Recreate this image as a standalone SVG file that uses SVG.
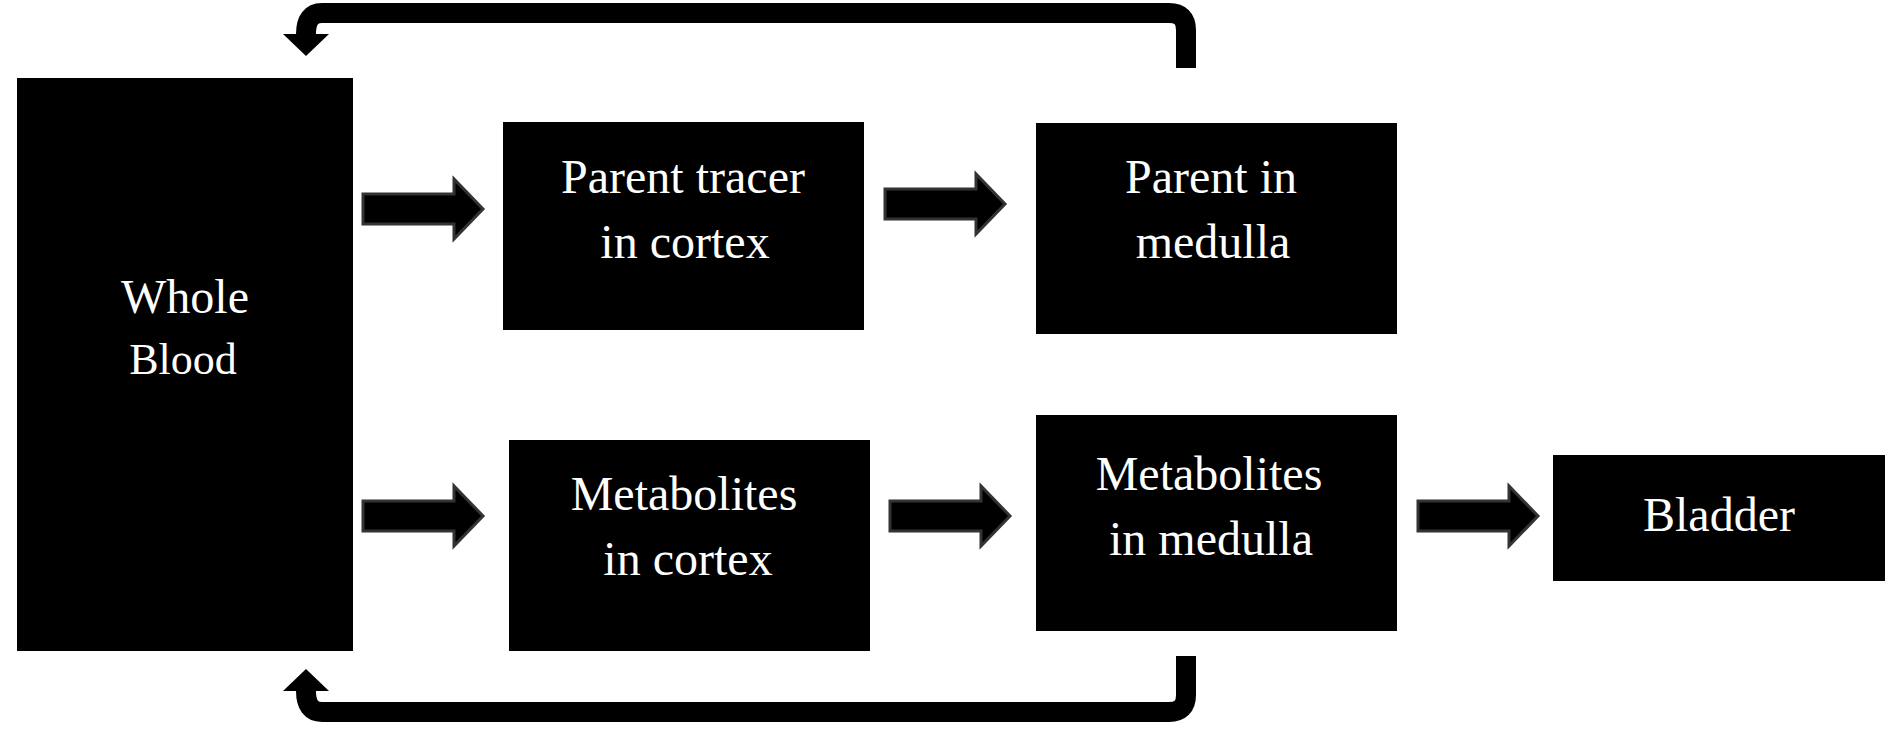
<svg xmlns="http://www.w3.org/2000/svg" width="1901" height="734" viewBox="0 0 1901 734">
  <style>
    .box { fill: #000; }
    .label { font-family: "Liberation Serif", "Times New Roman", serif; font-size: 48px; fill: #fff; text-anchor: middle; }
    .small { font-size: 44px; }
    .block { fill: #000; stroke: #333; stroke-width: 3; }
    .loop { fill: none; stroke: #000; stroke-width: 20; }
  </style>
  <defs>
    <!-- thick block arrow, origin at the tail centre -->
    <path id="blockArrow" d="M0,-15 H91 V-30 L120,0 L91,30 V15 H0 Z"/>
    <marker id="loopHead" markerUnits="userSpaceOnUse" orient="auto" refX="0" refY="0" markerWidth="30" markerHeight="50" viewBox="0 -25 30 50" overflow="visible">
      <path d="M0,-23 L22,0 L0,23 Z" fill="#000"/>
    </marker>
  </defs>

  <g id="connectors">
    <use href="#blockArrow" class="block" transform="translate(363,209)"/>
    <use href="#blockArrow" class="block" transform="translate(885,204)"/>
    <use href="#blockArrow" class="block" transform="translate(363,516)"/>
    <use href="#blockArrow" class="block" transform="translate(890,516)"/>
    <use href="#blockArrow" class="block" transform="translate(1418,516)"/>
    <!-- return paths back to the blood pool -->
    <path class="loop" d="M1186,68 V30 Q1186,13 1169,13 H322 Q306,13 306,34" marker-end="url(#loopHead)"/>
    <path class="loop" d="M1186,656 V695 Q1186,712 1169,712 H322 Q306,712 306,691" marker-end="url(#loopHead)"/>
  </g>

  <g id="whole-blood">
    <rect class="box" x="17" y="78" width="336" height="573"/>
    <text class="label" x="185" y="313">Whole</text>
    <text class="label small" x="183" y="374">Blood</text>
  </g>

  <g id="parent-cortex">
    <rect class="box" x="503" y="122" width="361" height="208"/>
    <text class="label" x="683" y="193">Parent tracer</text>
    <text class="label" x="685" y="258">in cortex</text>
  </g>

  <g id="parent-medulla">
    <rect class="box" x="1036" y="123" width="361" height="211"/>
    <text class="label" x="1211" y="193">Parent in</text>
    <text class="label" x="1213" y="258">medulla</text>
  </g>

  <g id="metabolites-cortex">
    <rect class="box" x="509" y="440" width="361" height="211"/>
    <text class="label" x="684" y="510">Metabolites</text>
    <text class="label" x="688" y="575">in cortex</text>
  </g>

  <g id="metabolites-medulla">
    <rect class="box" x="1036" y="415" width="361" height="216"/>
    <text class="label" x="1209" y="490">Metabolites</text>
    <text class="label" x="1211" y="555">in medulla</text>
  </g>

  <g id="bladder">
    <rect class="box" x="1553" y="455" width="332" height="126"/>
    <text class="label" x="1719" y="531">Bladder</text>
  </g>
</svg>
